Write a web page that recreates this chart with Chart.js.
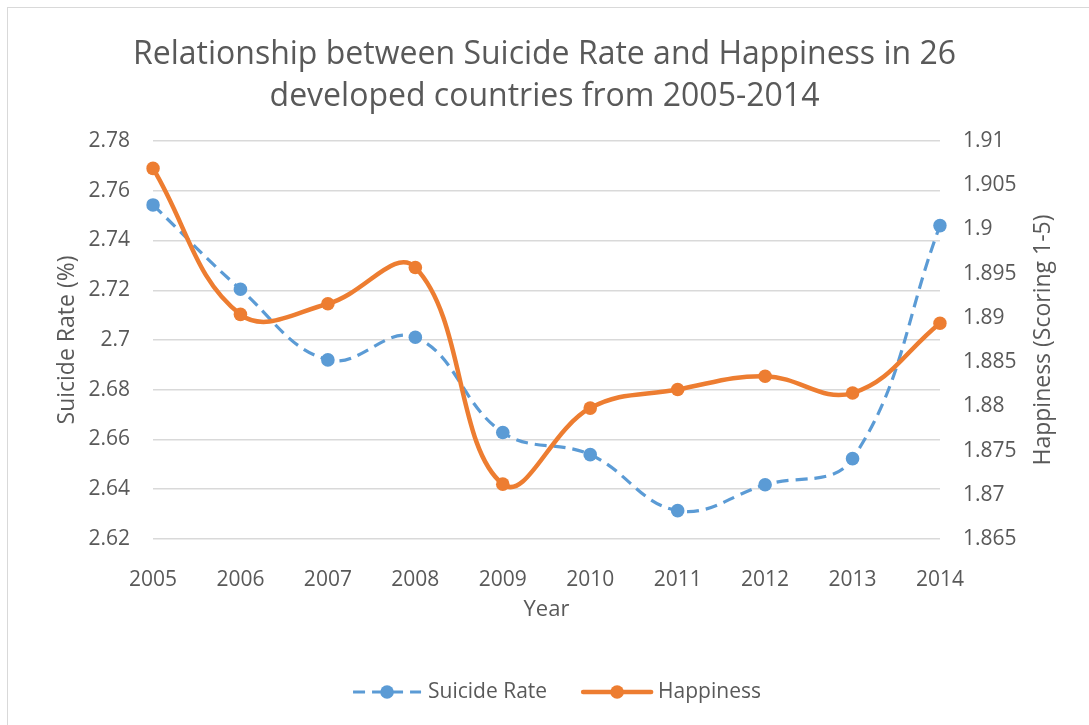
<!DOCTYPE html>
<html>
<head>
<meta charset="utf-8">
<title>Suicide Rate and Happiness</title>
<script src="https://cdn.jsdelivr.net/npm/chart.js@4.4.1/dist/chart.umd.min.js"></script>
<style>
  html, body { margin: 0; padding: 0; background: #ffffff; overflow: hidden; }
  #wrap { position: relative; width: 1089px; height: 725px; }
  #frame { position: absolute; left: 7px; top: 7px; width: 1200px; height: 800px;
           border-top: 1px solid #d9d9d9; border-left: 1px solid #d9d9d9; }
  #chart { position: absolute; left: 0; top: 0; }
</style>
</head>
<body>
<div id="wrap">
  <div id="frame"></div>
  <canvas id="chart" width="1089" height="725"></canvas>
</div>
<script>
// ---- data ----
const years = ['2005', '2006', '2007', '2008', '2009', '2010', '2011', '2012', '2013', '2014'];
const suicideRate = [2.7543, 2.7204, 2.6920, 2.7011, 2.6628, 2.6539, 2.6314, 2.6418, 2.6523, 2.7460];
const happiness = [1.9069, 1.8904, 1.8916, 1.8957, 1.8712, 1.8798, 1.8819, 1.8834, 1.8815, 1.8894];

const titleLines = ['Relationship between Suicide Rate and Happiness in 26', 'developed countries from 2005-2014'];
const xTitle = 'Year';
const leftTitle = 'Suicide Rate (%)';
const rightTitle = 'Happiness (Scoring 1-5)';
const seriesNames = ['Suicide Rate', 'Happiness'];

// ---- styling ----
const FONT = '"Open Sans", "Noto Sans", "DejaVu Sans", sans-serif';
const TEXT = '#595959';
const GRID = '#d9d9d9';
const BLUE = '#5b9bd5';
const ORANGE = '#ed7d31';

const fmt = v => String(parseFloat(Number(v).toFixed(4)));

// Axis titles (right one reads bottom-to-top) and the legend row.
const decorations = {
  id: 'decorations',
  afterDraw(chart) {
    const ctx = chart.ctx;
    const area = chart.chartArea;
    const sx = chart.scales.x, sy = chart.scales.y, sy1 = chart.scales.y1;
    ctx.save();
    ctx.fillStyle = TEXT;
    ctx.textAlign = 'center';
    ctx.textBaseline = 'middle';

    ctx.font = '22px ' + FONT;
    ctx.fillText(xTitle, (area.left + area.right) / 2, sx.top + 71);

    ctx.font = '23px ' + FONT;
    const midY = (area.top + area.bottom) / 2;
    ctx.save();
    ctx.translate(sy.left + 67, midY);
    ctx.rotate(-Math.PI / 2);
    ctx.fillText(leftTitle, 0, 0);
    ctx.restore();

    ctx.save();
    ctx.translate(sy1.right - 46, midY);
    ctx.rotate(-Math.PI / 2);
    ctx.fillText(rightTitle, 0, 0);
    ctx.restore();

    // legend
    ctx.font = '21px ' + FONT;
    const sample = 72, gapText = 5, gapItem = 34;
    const ds = chart.data.datasets;
    const widths = ds.map(d => sample + gapText + ctx.measureText(d.label).width);
    const total = widths.reduce((a, b) => a + b, 0) + gapItem * (ds.length - 1);
    let x = 556 - total / 2;
    const y = sx.bottom - 33;
    ds.forEach((d, i) => {
      ctx.save();
      ctx.strokeStyle = d.borderColor;
      ctx.lineWidth = d.borderWidth;
      ctx.lineCap = d.borderDash && d.borderDash.length ? 'butt' : 'round';
      ctx.setLineDash(d.borderDash || []);
      ctx.beginPath();
      ctx.moveTo(x + 2, y);
      ctx.lineTo(x + sample - 2, y);
      ctx.stroke();
      ctx.setLineDash([]);
      ctx.fillStyle = d.pointBackgroundColor;
      ctx.beginPath();
      ctx.arc(x + sample / 2, y, d.pointRadius, 0, Math.PI * 2);
      ctx.fill();
      ctx.restore();
      ctx.textAlign = 'left';
      ctx.fillText(d.label, x + sample + gapText, y);
      x += widths[i] + gapItem;
    });
    ctx.restore();
  }
};

new Chart(document.getElementById('chart'), {
  type: 'line',
  data: {
    labels: years,
    datasets: [
      {
        label: seriesNames[0],
        data: suicideRate,
        yAxisID: 'y',
        borderColor: BLUE,
        backgroundColor: BLUE,
        pointBackgroundColor: BLUE,
        pointBorderWidth: 0,
        pointRadius: 6.8,
        borderWidth: 3.2,
        borderDash: [12, 7],
        tension: 0.4,
        order: 1
      },
      {
        label: seriesNames[1],
        data: happiness,
        yAxisID: 'y1',
        borderColor: ORANGE,
        backgroundColor: ORANGE,
        pointBackgroundColor: ORANGE,
        pointBorderWidth: 0,
        pointRadius: 6.8,
        borderWidth: 4.5,
        tension: 0.4,
        order: 0
      }
    ]
  },
  options: {
    responsive: false,
    animation: false,
    layout: { padding: 0 },
    plugins: {
      legend: { display: false },
      tooltip: { enabled: false },
      title: {
        display: true,
        text: titleLines,
        color: TEXT,
        font: { family: FONT, size: 32, weight: 'normal', lineHeight: 42 / 32 },
        padding: { top: 34, bottom: 23 }
      }
    },
    scales: {
      x: {
        type: 'category',
        offset: false,
        grid: { display: false },
        border: { display: false },
        ticks: { color: TEXT, font: { family: FONT, size: 21 }, padding: 20, maxRotation: 0 },
        afterFit(s) { s.height = 186; }
      },
      y: {
        position: 'left',
        min: 2.62,
        max: 2.78,
        border: { display: false },
        grid: { color: GRID, lineWidth: 1.5, drawTicks: false },
        ticks: { stepSize: 0.02, color: TEXT, font: { family: FONT, size: 21 }, padding: 23, callback: fmt },
        afterFit(s) { s.width = 153; }
      },
      y1: {
        position: 'right',
        min: 1.865,
        max: 1.91,
        border: { display: false },
        grid: { display: false, drawOnChartArea: false, drawTicks: false },
        ticks: { stepSize: 0.005, color: TEXT, font: { family: FONT, size: 21 }, padding: 23, callback: fmt },
        afterFit(s) { s.width = 149; }
      }
    }
  },
  plugins: [decorations]
});
</script>
</body>
</html>
